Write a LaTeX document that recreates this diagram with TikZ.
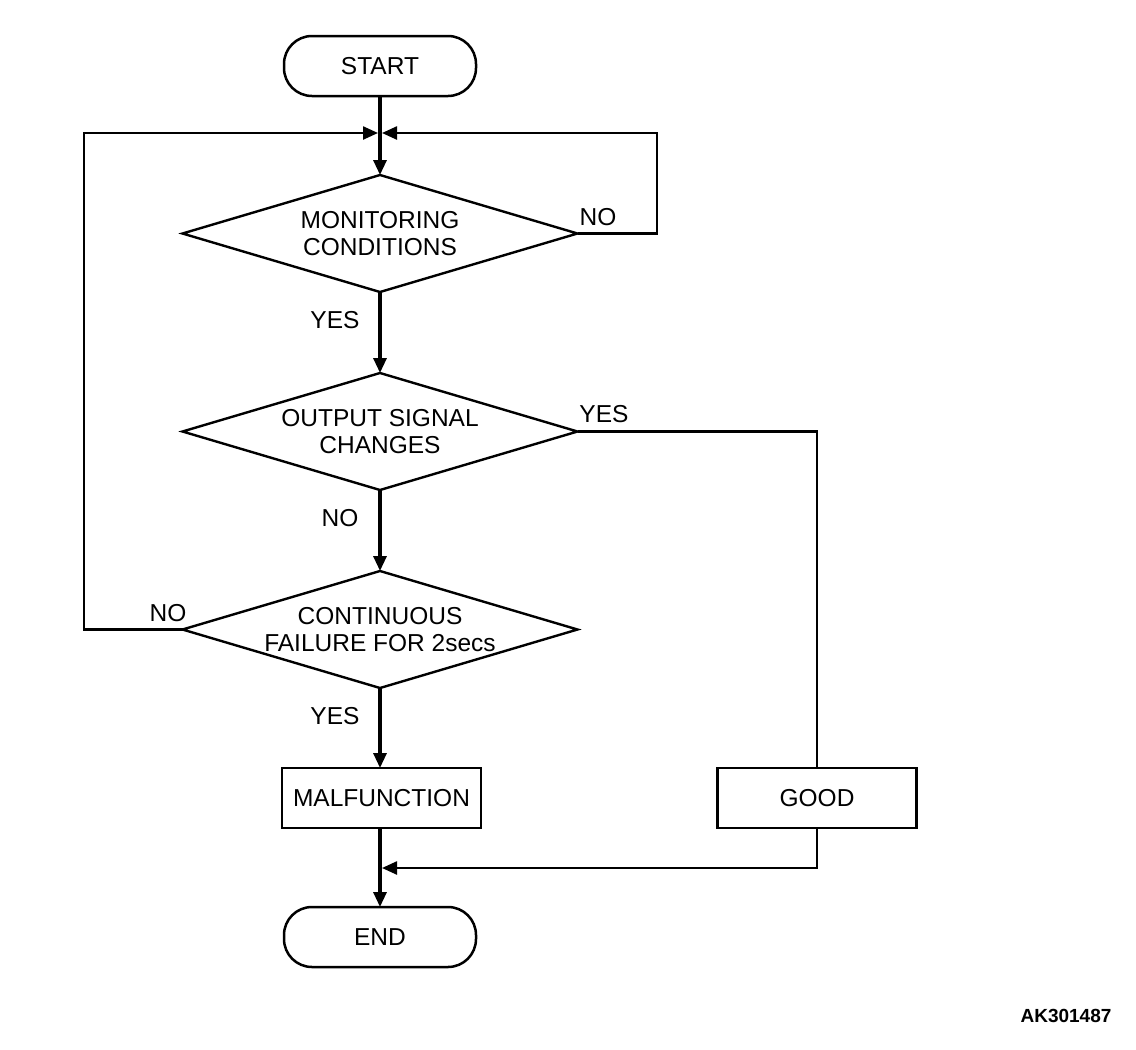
\documentclass[tikz,border=0pt]{standalone}
\usepackage{fontspec}
\setmainfont{Liberation Sans}
\usetikzlibrary{shapes.geometric,arrows.meta}
\begin{document}
\begin{tikzpicture}[x=1pt,y=-1pt,
  every node/.style={font=\fontsize{24.5}{26.5}\selectfont, outer sep=0pt},
  term/.style={draw, line width=2.5pt, rectangle, rounded corners=28pt, minimum width=192pt, minimum height=60pt, inner sep=0pt},
  proc/.style={draw, line width=2.3pt, rectangle, minimum width=199pt, minimum height=60pt, inner sep=0pt},
  dec/.style={draw, line width=2.4pt, diamond, aspect=3.4, minimum width=395pt, minimum height=117pt, inner sep=0pt, align=center},
  lbl/.style={inner sep=0pt},
  flow/.style={line width=3.2pt, -{Triangle[length=15pt,width=13pt]}},
  thin/.style={line width=2.4pt},
  thinarr/.style={line width=2.4pt, -{Triangle[length=15pt,width=13pt]}}]
\useasboundingbox (0,0) rectangle (1136,1050);
\node[term] (start) at (380,66) {START};
\node[dec] (d1) at (380,233.5) {MONITORING\\CONDITIONS};
\node[dec] (d2) at (380,431.5) {OUTPUT SIGNAL\\CHANGES};
\node[dec] (d3) at (380,629.5) {CONTINUOUS\\FAILURE FOR 2secs};
\node[proc] (mal) at (381.5,798) {MALFUNCTION};
\node[proc] (good) at (817,798) {GOOD};
\node[term] (end) at (380,937) {END};
\coordinate (j) at (380,133);
\coordinate (jl) at (378,133);
\coordinate (jr) at (382,133);
\coordinate (r1) at (657,233.5);
\coordinate (r1t) at (657,133);
\coordinate (l3) at (84,629.5);
\coordinate (l3t) at (84,133);
\coordinate (r2) at (817,431.5);
\coordinate (gb) at (817,868);
\coordinate (ej) at (382,868);
% main flow
\draw[line width=3.2pt] (start.south) -- (j);
\draw[flow] (j) -- (d1.north);
\draw[flow] (d1.south) -- (d2.north);
\draw[flow] (d2.south) -- (d3.north);
\draw[flow] (d3.south) -- (mal.north -| d3.south);
\draw[flow] (mal.south -| end.north) -- (end.north);
% loops
\draw[thinarr] (d1.east) -- (r1) -- (r1t) -- (jr);
\draw[thinarr] (d3.west) -- (l3) -- (l3t) -- (jl);
\draw[thin] (d2.east) -- (r2) -- (good.north);
\draw[thinarr] (good.south) -- (gb) -- (ej);
% labels
\node[lbl] (n1) at (598,217) {NO};
\node[lbl] (y1) at (335,320) {YES};
\node[lbl] (y2) at (604,414) {YES};
\node[lbl] (n2) at (340,518) {NO};
\node[lbl] (n3) at (168,613) {NO};
\node[lbl] (y3) at (335,716) {YES};
\node[lbl, font=\fontsize{19}{21}\selectfont\bfseries] (id) at (1066,1016) {AK301487};
\end{tikzpicture}
\end{document}
